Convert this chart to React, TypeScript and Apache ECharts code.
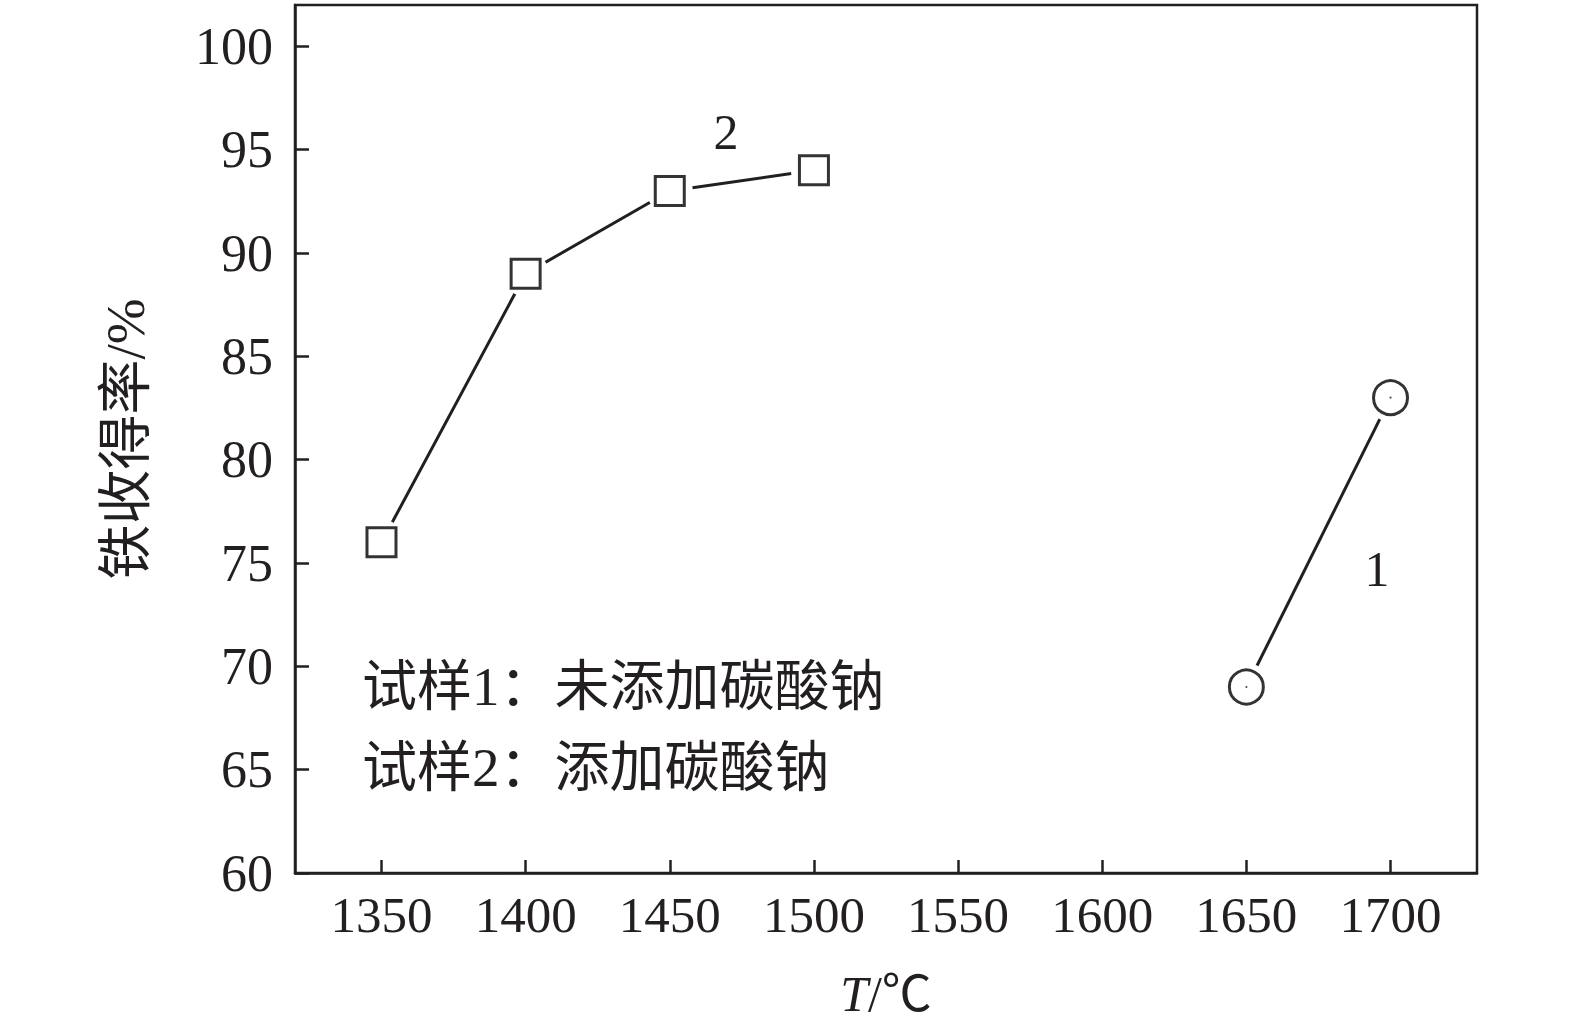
import React, { useEffect, useRef } from "react";
import * as echarts from "echarts";

const xTicks = [1350, 1400, 1450, 1500, 1550, 1600, 1650, 1700];
const yTicks = [60, 65, 70, 75, 80, 85, 90, 95, 100];

const sample2X = [1350, 1400, 1450, 1500];
const sample2Y = [76, 89, 93, 94];
const sample1X = [1650, 1700];
const sample1Y = [69, 83];

const legendLines = ["试样1：未添加碳酸钠", "试样2：添加碳酸钠"];
const yName = "铁收得率/%";

const INK = "#231f20";
const FONT = "'Liberation Serif', 'Noto Sans CJK SC', serif";

export default function App() {
  const ref = useRef<HTMLDivElement>(null);

  useEffect(() => {
    document.body.style.margin = "0";
    if (!ref.current) return;
    const chart = echarts.init(ref.current, null, { renderer: "svg" });

    const s2 = sample2X.map((x, i) => [x, sample2Y[i]]);
    const s1 = sample1X.map((x, i) => [x, sample1Y[i]]);

    chart.setOption({
      animation: false,
      backgroundColor: "#fff",
      grid: {
        left: 295,
        right: 98,
        top: 5,
        bottom: 162,
        show: true,
        borderColor: INK,
        borderWidth: 2.5,
        backgroundColor: "transparent",
      },
      xAxis: {
        type: "value",
        min: 1320,
        max: 1730,
        name: "{i|T}/℃",
        nameLocation: "middle",
        nameGap: 96,
        nameTextStyle: {
          fontFamily: FONT,
          fontSize: 50,
          color: INK,
          rich: {
            i: { fontFamily: FONT, fontSize: 50, fontStyle: "italic", color: INK },
          },
        },
        axisLine: { show: true, lineStyle: { color: INK, width: 2.5 } },
        axisTick: {
          show: true,
          inside: true,
          length: 13,
          lineStyle: { color: INK, width: 2.5 },
          customValues: xTicks,
        },
        axisLabel: {
          fontFamily: FONT,
          fontSize: 51,
          color: INK,
          margin: 16,
          customValues: xTicks,
          formatter: (v: number) => String(v),
        },
        splitLine: { show: false },
      },
      yAxis: {
        type: "value",
        min: 60,
        max: 102,
        name: yName,
        nameLocation: "middle",
        nameGap: 142,
        nameRotate: 90,
        nameTextStyle: { fontFamily: FONT, fontSize: 55, color: INK },
        axisLine: { show: true, lineStyle: { color: INK, width: 2.5 } },
        axisTick: {
          show: true,
          inside: true,
          length: 14,
          lineStyle: { color: INK, width: 2.5 },
          customValues: yTicks,
        },
        axisLabel: {
          fontFamily: FONT,
          fontSize: 52,
          color: INK,
          margin: 22,
          customValues: yTicks,
          formatter: (v: number) => String(v),
        },
        splitLine: { show: false },
      },
      series: [
        {
          type: "line",
          data: s2,
          symbol: "circle",
          symbolSize: 46,
          itemStyle: { color: "#fff", borderWidth: 0 },
          lineStyle: { color: INK, width: 3 },
          z: 2,
        },
        {
          type: "line",
          data: s1,
          symbol: "circle",
          symbolSize: 48,
          itemStyle: { color: "#fff", borderWidth: 0 },
          lineStyle: { color: INK, width: 3 },
          z: 2,
        },
        {
          type: "scatter",
          data: s2,
          symbol: "rect",
          symbolSize: 29,
          itemStyle: { color: "#fff", borderColor: "#000", borderWidth: 3 },
          z: 3,
        },
        {
          type: "scatter",
          data: s1,
          symbol: "circle",
          symbolSize: 34,
          itemStyle: { color: "#fff", borderColor: "#000", borderWidth: 3 },
          z: 3,
        },
        {
          type: "scatter",
          data: s1,
          symbol: "circle",
          symbolSize: 2,
          itemStyle: { color: INK },
          z: 4,
        },
      ],
      graphic: [
        {
          type: "text",
          x: 726,
          y: 132,
          style: {
            text: "2",
            fontFamily: FONT,
            fontSize: 50,
            fill: INK,
            align: "center",
            verticalAlign: "middle",
          },
        },
        {
          type: "text",
          x: 1377,
          y: 569,
          style: {
            text: "1",
            fontFamily: FONT,
            fontSize: 50,
            fill: INK,
            align: "center",
            verticalAlign: "middle",
          },
        },
        {
          type: "text",
          x: 362,
          y: 686,
          style: {
            text: legendLines[0],
            fontFamily: FONT,
            fontSize: 55,
            fill: INK,
            align: "left",
            verticalAlign: "middle",
          },
        },
        {
          type: "text",
          x: 362,
          y: 767,
          style: {
            text: legendLines[1],
            fontFamily: FONT,
            fontSize: 55,
            fill: INK,
            align: "left",
            verticalAlign: "middle",
          },
        },
      ],
    });

    return () => chart.dispose();
  }, []);

  return <div ref={ref} style={{ width: 1575, height: 1035 }} />;
}
